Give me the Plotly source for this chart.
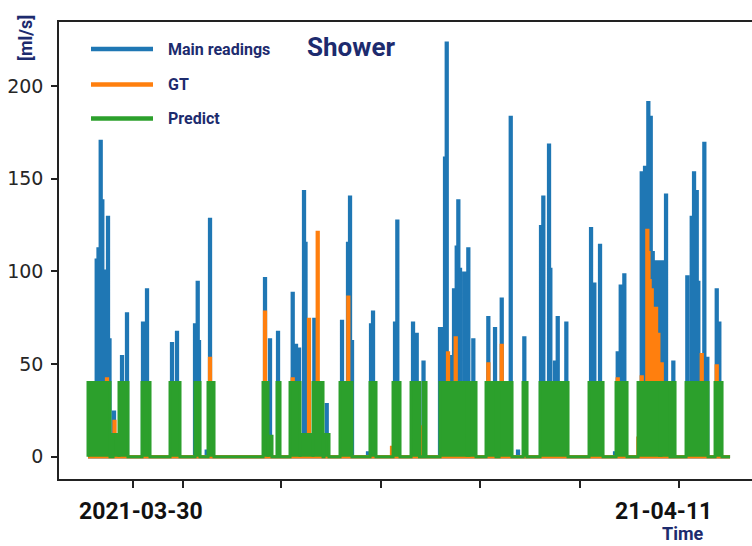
import pandas as pd
import plotly.graph_objects as go

BASE = pd.Timestamp("2021-03-30")

# ---- data (hours from 2021-03-30 00:00, flow in ml/s) ----
main_hours = [-19.15, -18.20, -17.04, -16.19, -15.30, -14.24, -13.19, -12.40,
              -10.02, -5.80, -3.17, 5.28, 7.39, 20.57, 23.21, 32.71, 34.13, 34.82,
              38.88, 40.62, 69.63, 72.27, 76.49, 84.24, 85.98, 87.57, 90.20, 90.99, 95.64,
              102.18, 110.25, 111.83, 113.41, 114.47, 115.52, 123.96, 125.55, 126.60,
              138.21, 139.42, 147.70, 149.65, 153.24,
              161.94, 163.53, 164.58, 165.48, 167.22, 169.33, 170.75, 171.60, 172.49, 174.76, 176.87, 179.51,
              187.42, 190.96, 192.38, 194.49, 199.24, 203.09, 206.41,
              215.22, 216.43, 219.44, 220.13, 222.61, 224.03, 228.57,
              241.60, 243.34, 246.34, 254.26, 255.68, 257.26, 259.16,
              268.34, 270.08, 271.82, 273.09, 274.14, 275.88, 277.99, 279.58, 281.16, 285.01,
              292.39, 294.71, 295.93, 297.35, 298.20, 301.36, 302.94, 307.90, 309.27]
main_vals = [106, 112, 170, 138, 100, 95, 129, 63,
             24, 54, 77, 72, 90, 61, 67, 71, 94, 62,
             3, 128, 96, 63, 67, 88, 60, 58, 143, 115, 74,
             28, 73, 20, 115, 140, 62, 2, 71, 78,
             72, 127, 72, 66, 51,
             69, 69, 161, 223, 54, 90, 113, 138, 101, 99, 112, 63,
             75, 69, 32, 85, 183, 3, 64,
             124, 140, 168, 101, 51, 75, 72,
             123, 93, 114, 2, 56, 92, 98,
             153, 156, 191, 183, 110, 105, 105, 105, 141, 51,
             97, 129, 153, 143, 94, 169, 53, 90, 72]

gt_hours = [-13.72, -9.76, 40.62, 69.63, 84.24, 92.84, 97.43, 113.57, 136.62, 151.92,
            166.16, 170.22, 176.55, 187.42, 194.49, 255.68, 266.55, 268.34, 271.29, 271.90,
            272.50, 273.60, 274.83, 275.90, 277.10, 277.80, 278.89, 299.99, 307.90]
gt_vals = [42, 19, 53, 78, 42, 74, 121, 86, 5, 16,
           56, 64, 25, 50, 60, 42, 10, 43, 122, 110,
           95, 90, 80, 80, 66, 13, 50, 55, 49]

pred_start = [-23.74, -10.55, -7.39, 4.75, 19.52, 32.71, 39.56, 68.58, 71.21, 75.96,
              82.82, 88.09, 94.95, 100.75, 109.19, 125.02, 137.15, 146.65, 152.98, 161.94,
              176.19, 177.24, 186.21, 193.07, 205.73, 214.69, 240.54, 254.78, 266.39, 277.73,
              278.50, 284.32, 291.71, 307.01]
pred_end = [-12.13, -7.39, -2.64, 8.97, 24.79, 35.34, 42.73, 71.21, 73.32, 77.54,
            88.09, 94.95, 100.23, 103.39, 115.52, 128.18, 140.84, 151.13, 154.56, 176.19,
            177.24, 180.93, 191.48, 199.92, 207.84, 229.46, 247.93, 260.59, 277.73, 278.50,
            283.27, 285.91, 303.31, 310.70]
pred_vals = [40, 12, 40, 40, 40, 40, 40, 40, 11, 40,
             40, 12, 40, 12, 40, 40, 40, 40, 40, 40,
             12, 40, 40, 40, 40, 40, 40, 40, 40, 12,
             40, 40, 40, 40]

series_start, series_end = -23.74, 314.92
tick_hours = [0, 26.4, 78.1, 130.8, 183.0, 235.8, 288.0]
x_range_hours = [-39.04, 326.5]
y_ticks = [0, 50, 100, 150, 200]

NAVY = "#1d2b6e"
BLUE, ORANGE, GREEN = "#1f77b4", "#ff7f0e", "#2ca02c"
FONT = "Roboto, DejaVu Sans, sans-serif"


def T(h):
    return BASE + pd.to_timedelta(h, unit="h")


def spike_path(hours, vals, half=0.2):
    xs, ys = [series_start], [0]
    for h, v in sorted(zip(hours, vals)):
        xs += [h - half, h - half, h + half, h + half]
        ys += [0, v, v, 0]
    xs.append(series_end)
    ys.append(0)
    return [T(x) for x in xs], ys


def block_path(starts, ends, vals):
    xs, ys = [series_start], [0]
    for s, e, v in sorted(zip(starts, ends, vals)):
        xs += [s, s, e, e]
        ys += [0, v, v, 0]
    xs.append(series_end)
    ys.append(0)
    return [T(x) for x in xs], ys


fig = go.Figure()
mx, my = spike_path(main_hours, main_vals)
fig.add_trace(go.Scatter(x=mx, y=my, mode="lines", name="Main readings",
                         line=dict(color=BLUE, width=3.5), fill="tozeroy",
                         fillcolor=BLUE, showlegend=False))
gx, gy = spike_path(gt_hours, gt_vals)
fig.add_trace(go.Scatter(x=gx, y=gy, mode="lines", name="GT",
                         line=dict(color=ORANGE, width=3.5), fill="tozeroy",
                         fillcolor=ORANGE, showlegend=False))
px_, py_ = block_path(pred_start, pred_end, pred_vals)
fig.add_trace(go.Scatter(x=px_, y=py_, mode="lines", name="Predict",
                         line=dict(color=GREEN, width=3), fill="tozeroy",
                         fillcolor=GREEN, showlegend=False))

# plot area in pixels: x 59..752, y 22..479
W, L, R, TOP, BOT = 752, 59, 752, 22, 479


def pxx(x):
    return (x - L) / (R - L)


def pxy(y):
    return (BOT - y) / (BOT - TOP)


shapes = []
annotations = []
legend_items = [("Main readings", BLUE, 49), ("GT", ORANGE, 84.5), ("Predict", GREEN, 118.5)]
for name, col, yy in legend_items:
    shapes.append(dict(type="line", xref="paper", yref="paper", x0=pxx(91), x1=pxx(153),
                       y0=pxy(yy), y1=pxy(yy), line=dict(color=col, width=4.5)))
    annotations.append(dict(text=name, xref="paper", yref="paper", x=pxx(166), y=pxy(yy),
                            xanchor="left", yanchor="middle", showarrow=False,
                            font=dict(family=FONT, size=16, color=NAVY, weight="bold")))

annotations += [
    dict(text="[ml/s]", xref="paper", yref="paper", x=pxx(25), y=pxy(38), textangle=-90,
         showarrow=False, xanchor="center", yanchor="middle",
         font=dict(family=FONT, size=18, color=NAVY, weight="bold")),
    dict(text="Time", xref="paper", yref="paper", x=pxx(683), y=pxy(533),
         showarrow=False, xanchor="center", yanchor="middle",
         font=dict(family=FONT, size=18, color=NAVY, weight="bold")),
    dict(text="2021-03-30", xref="paper", yref="paper", x=pxx(141), y=pxy(511),
         showarrow=False, xanchor="center", yanchor="middle",
         font=dict(family=FONT, size=23, color="#111111", weight="bold")),
    dict(text="21-04-11", xref="paper", yref="paper", x=pxx(663), y=pxy(511),
         showarrow=False, xanchor="center", yanchor="middle",
         font=dict(family=FONT, size=23, color="#111111", weight="bold")),
]

fig.update_layout(
    width=752, height=546,
    margin=dict(l=L, r=W - R, t=TOP, b=546 - BOT, pad=0),
    plot_bgcolor="white", paper_bgcolor="white",
    title=dict(text="Shower", x=351 / 752, xanchor="center", y=1 - 47 / 546, yanchor="middle",
               font=dict(family=FONT, size=26, color=NAVY, weight="bold")),
    shapes=shapes, annotations=annotations, showlegend=False,
    xaxis=dict(type="date", range=[T(x_range_hours[0]), T(x_range_hours[1])],
               tickvals=[T(h) for h in tick_hours], showticklabels=False,
               ticks="outside", ticklen=7, tickwidth=1.5, tickcolor="#222",
               showline=True, linecolor="#222", linewidth=1.5, mirror=True,
               showgrid=False, zeroline=False),
    yaxis=dict(range=[-12, 234.5], tickvals=y_ticks, ticks="outside", ticklen=6,
               tickwidth=1.5, tickcolor="#222", showline=True, linecolor="#222",
               linewidth=1.5, mirror=False, showgrid=False, zeroline=False,
               ticklabelstandoff=4,
               tickfont=dict(family="DejaVu Sans", size=19, color="#262626")),
)

fig.write_html("out.html")
